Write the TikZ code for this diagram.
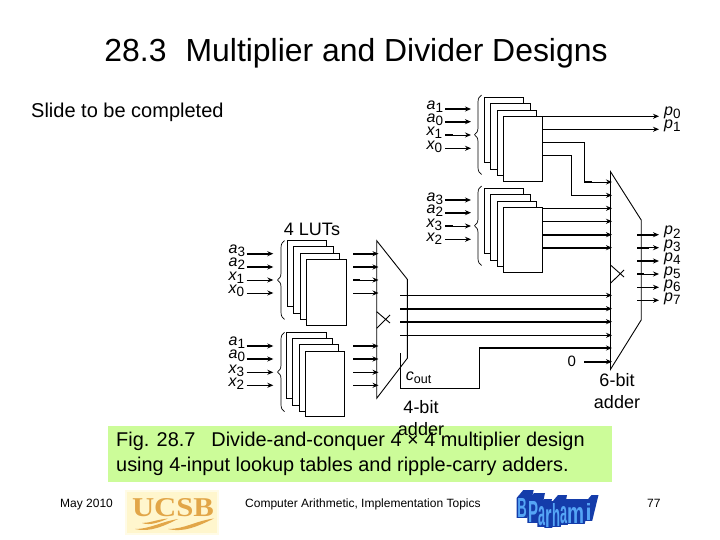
\documentclass[tikz,border=0pt]{standalone}
\usepackage{fontspec}
\setmainfont{Liberation Sans}
\newfontfamily\logofont{Liberation Serif}
\usetikzlibrary{arrows.meta,decorations.pathreplacing,calc}
\definecolor{boxgreen}{RGB}{204,252,153}
\definecolor{logobg}{RGB}{255,246,205}
\definecolor{logobgb}{RGB}{255,251,230}
\definecolor{logotx}{RGB}{226,166,72}
\definecolor{wadark}{RGB}{20,60,170}
\definecolor{walight}{RGB}{85,165,245}
\tikzset{
  thin wire/.style={line width=0.9pt},
  thick wire/.style={line width=2pt},
  arr/.style={-{Stealth[length=6pt,width=5pt]}},
  lutbox/.style={draw=black,fill=white,line width=0.9pt,inner sep=0,outer sep=0,anchor=north west},
  adderline/.style={draw=black,line width=0.9pt},
  inlab/.style={inner sep=0,anchor=base west,font=\fontsize{16}{16}\selectfont\itshape},
  plain/.style={inner sep=0,font=\fontsize{18}{22}\selectfont},
  foot/.style={inner sep=0,anchor=base west,font=\fontsize{12}{12}\selectfont},
  brc/.style={decorate,decoration={brace,amplitude=7pt,mirror},line width=0.7pt},
  waword/.style={inner sep=0,outer sep=0,anchor=south west,font=\bfseries},
}
\newcommand\lut[5]{\node[lutbox,minimum width=#4pt,minimum height=#5pt] (#1) at (#2,#3) {};}
\newcommand\wire[5]{\coordinate (#1s) at (#3,#5);\coordinate (#1t) at (#4,#5);\draw[#2] (#1s) -- (#1t);}
\newcommand\lab[5]{\node[inlab] (#1) at (#2,#3) {#4\raisebox{-3pt}{\fontsize{13.5}{13.5}\selectfont\upshape #5}};}
\begin{document}
\begin{tikzpicture}[x=1pt,y=-1pt]
\useasboundingbox[fill=white] (0,0) rectangle (720,540);
% titles
\node[inner sep=0,font=\fontsize{31.9}{32}\selectfont] (title) at (356,53) {28.3\hspace{0.6em}Multiplier and Divider Designs};
\node[inner sep=0,anchor=west,font=\fontsize{20}{20}\selectfont] (note) at (31,112) {Slide to be completed};
\node[plain] (luts) at (312,229) {4 LUTs};
% top stacks
\foreach \n/\dy in {a/0,b/91}{
  \lut{\n1}{484.3}{97.3+\dy}{39.4}{65}
  \lut{\n2}{490.3}{103.7+\dy}{40}{65.6}
  \lut{\n3}{497.3}{110+\dy}{39.4}{65.7}
  \lut{\n4}{503.3}{116.3+\dy}{39.4}{65}
  \coordinate (\n bt) at (481.5,95+\dy);
  \coordinate (\n bb) at (481.5,174.5+\dy);
  \draw[brc] (\n bt) -- (\n bb);
}
% left stacks
\lut{c1}{287.7}{240.7}{39}{65.6}
\lut{c2}{293.3}{246.7}{40.4}{66.3}
\lut{c3}{300}{253.3}{39.7}{65.7}
\lut{c4}{306.3}{259.3}{40.4}{66}
\lut{d1}{286.3}{332.3}{40.4}{66}
\lut{d2}{292.3}{338.3}{40.4}{66.7}
\lut{d3}{299.3}{344.7}{39.4}{66.3}
\lut{d4}{305.3}{351.3}{39.4}{65.4}
\coordinate (cbt) at (284.5,240.7); \coordinate (cbb) at (284.5,319.3);
\coordinate (dbt) at (284.5,332.3); \coordinate (dbb) at (284.5,411.7);
\draw[brc] (cbt) -- (cbb);
\draw[brc] (dbt) -- (dbb);
% input labels
\lab{l1}{426.5}{110}{a}{1}
\lab{l2}{426.5}{122.5}{a}{0}
\lab{l3}{426.5}{136}{x}{1}
\lab{l4}{426.5}{149.5}{x}{0}
\lab{l5}{426.5}{201.7}{a}{3}
\lab{l6}{426.5}{214}{a}{2}
\lab{l7}{426.5}{227.7}{x}{3}
\lab{l8}{426.5}{241}{x}{2}
\lab{l9}{228.5}{253.3}{a}{3}
\lab{l10}{228.5}{266.7}{a}{2}
\lab{l11}{228.5}{280}{x}{1}
\lab{l12}{228.5}{293.3}{x}{0}
\lab{l13}{228.5}{345}{a}{1}
\lab{l14}{228.5}{358.3}{a}{0}
\lab{l15}{228.5}{373.3}{x}{3}
\lab{l16}{228.5}{386.7}{x}{2}
% input wires
\foreach \n/\y/\s in {i1/109/thick wire,i2/121.7/thick wire,i3/135/thin wire,i4/148.3/thin wire,
   i5/200/thick wire,i6/212.7/thick wire,i7/226/thin wire,i8/239.3/thin wire}{
  \wire{\n}{arr,\s}{445}{471}{\y}
}
\foreach \n/\y/\s in {j1/253.7/thick wire,j2/267/thick wire,j3/280/thin wire,j4/293/thin wire,
   j5/346/thick wire,j6/359/thick wire,j7/372.3/thin wire,j8/385.3/thin wire}{
  \wire{\n}{arr,\s}{246.7}{273.3}{\y}
}
% left adder
\coordinate (A1) at (376.7,240.7); \coordinate (A2) at (407.3,279.3);
\coordinate (A3) at (407.3,358.3); \coordinate (A4) at (376.7,398.3);
\coordinate (A5) at (376.7,328.3); \coordinate (A6) at (390,315); \coordinate (A7) at (376.7,311.7); \coordinate (A8) at (390,323);
\draw[adderline] (A1) -- (A2) -- (A3) -- (A4) -- cycle;
\draw[adderline] (A5) -- (A6) (A7) -- (A8);
\foreach \n/\y/\s in {k1/253.7/thick wire,k2/267/thick wire,k3/280/thin wire,k4/293/thin wire,
   k5/346/thick wire,k6/359/thick wire,k7/372.3/thin wire,k8/385.3/thin wire}{
  \wire{\n}{arr,\s}{353.3}{378.5}{\y}
}
% right adder
\coordinate (B1) at (610.5,171.7); \coordinate (B2) at (641.2,220);
\coordinate (B3) at (641.2,320); \coordinate (B4) at (610.5,369.3);
\coordinate (B5) at (610.5,283.3); \coordinate (B6) at (624,270); \coordinate (B7) at (610.5,265); \coordinate (B8) at (624,277);
\draw[adderline] (B1) -- (B2) -- (B3) -- (B4) -- cycle;
\draw[adderline] (B5) -- (B6) (B7) -- (B8);
% outputs p0 p1
\wire{p0}{arr,thin wire}{542.7}{659}{116.3}
\wire{p1}{arr,thin wire}{542.7}{659}{129.3}
\coordinate (u1) at (542.7,142.3); \coordinate (u2) at (584.3,142.3); \coordinate (u3) at (584.3,182); \coordinate (u4) at (612,182);
\draw[arr,thin wire] (u1) -- (u2) -- (u3) -- (u4);
\coordinate (v1) at (542.7,155.7); \coordinate (v2) at (571.7,155.7); \coordinate (v3) at (571.7,195.3); \coordinate (v4) at (612,195.3);
\draw[arr,thin wire] (v1) -- (v2) -- (v3) -- (v4);
\foreach \n/\y/\s in {m1/208.3/thin wire,m2/221.3/thin wire,m3/234.7/thick wire,m4/247.7/thick wire}{
  \wire{\n}{arr,\s}{542.7}{612}{\y}
}
% middle bus
\foreach \n/\y/\s in {q1/295.3/thin wire,q2/308.7/thick wire,q3/321.7/thick wire,q4/335.3/thin wire}{
  \wire{\n}{arr,\s}{400}{612}{\y}
}
\wire{z}{arr,thick wire}{584}{612}{361.7}
% cout
\coordinate (c1) at (400,353.3); \coordinate (c2) at (400,388.3); \coordinate (c3) at (479.3,388.3); \coordinate (c4) at (479.3,348); \coordinate (c5) at (612,348);
\draw[thin wire] (c1) -- (c2) -- (c3) -- (c4);
\draw[arr,thick wire] (c4) -- (c5);
% outputs p2..p7
\foreach \n/\y/\s in {r2/234.7/thick wire,r3/247.7/thin wire,r4/261/thick wire,r5/274/thin wire,r6/287.3/thin wire,r7/300.3/thin wire}{
  \wire{\n}{arr,\s}{637}{659}{\y}
}
% short thick starts of some wires
\foreach \y/\a/\b in {247.7/637/649,274/637/644,135/445/453,226/445/453,280/353.3/360,182/584.3/592}{
  \draw[thick wire] (\a,\y) -- (\b,\y);
}
% output labels
\lab{o0}{664}{115.7}{p}{0}
\lab{o1}{664}{129}{p}{1}
\lab{o2}{664}{235}{p}{2}
\lab{o3}{664}{248.3}{p}{3}
\lab{o4}{664}{261.7}{p}{4}
\lab{o5}{664}{275}{p}{5}
\lab{o6}{664}{288.3}{p}{6}
\lab{o7}{664}{301.7}{p}{7}
% small labels
\node[inner sep=0,font=\fontsize{15}{15}\selectfont] (zero) at (571.7,361.7) {0};
\node[inlab] (cout) at (405.7,380) {c\raisebox{-3pt}{\fontsize{12.5}{12.5}\selectfont\upshape out}};
\node[plain,align=center] (ad6) at (617,391.5) {6-bit\\adder};
% caption
\node[fill=boxgreen,inner sep=0,anchor=north west,minimum width=503.7pt,minimum height=56pt] (cap) at (108,425.7) {};
\node[plain,align=center] (ad4) at (421,418) {4-bit\\adder};
\node[inner sep=0,anchor=north west,align=left,font=\fontsize{19.9}{24.5}\selectfont] (capt) at (116,432) {Fig. 28.7\hspace{0.8em}Divide-and-conquer 4 × 4 multiplier design\\using 4-input lookup tables and ripple-carry adders.};
% footer
\node[foot] (may) at (60,507.5) {May 2010};
\node[foot] (topic) at (245,507.5) {Computer Arithmetic, Implementation Topics};
\node[foot] (num) at (647,507.5) {77};
% UCSB logo
\fill[logobgb] (125,490) rectangle (219,535);
\fill[logobg] (127,492) rectangle (217,533);
\node[inner sep=0,outer sep=0,anchor=south west,text=logotx] (ucsb) at (132,516.5) {\resizebox{82pt}{18pt}{\logofont\bfseries UCSB}};
\fill[logotx] (135,529) .. controls (150,529) and (160,522) .. (178,519) .. controls (166,525) and (150,533) .. (135,529) -- cycle;
\fill[logotx] (168,529) .. controls (185,529) and (195,521) .. (214,518.5) .. controls (200,525) and (185,533) .. (168,529) -- cycle;
\fill[logotx] (142,523) .. controls (150,523) and (157,519.5) .. (168,518.5) .. controls (160,522) and (150,526) .. (142,523) -- cycle;
% B Parhami word art
\def\walist{B/517.3/517/9.4/19,P/528/522/10/21,a/538/526/7/19,r/545/527/6.5/18,h/552/526/8/23,a/560/524/7/17,m/567/523/17/16,i/585.5/520/6/17}
\foreach \c/\x/\y/\w/\h in \walist{
  \fill[wadark] (\x-0.7,\y+0.8) -- (\x+\w+0.7,\y+0.8) -- (\x+\w+7,\y-\h-8) -- (\x+6,\y-\h-8) -- (\x-0.7,\y-\h) -- cycle;
}
\foreach \c/\x/\y/\w/\h [count=\i] in \walist{
  \node[waword,text=walight] (wf\i) at (\x,\y) {\resizebox{\w pt}{\h pt}{\c}};
}
\end{tikzpicture}
\end{document}
